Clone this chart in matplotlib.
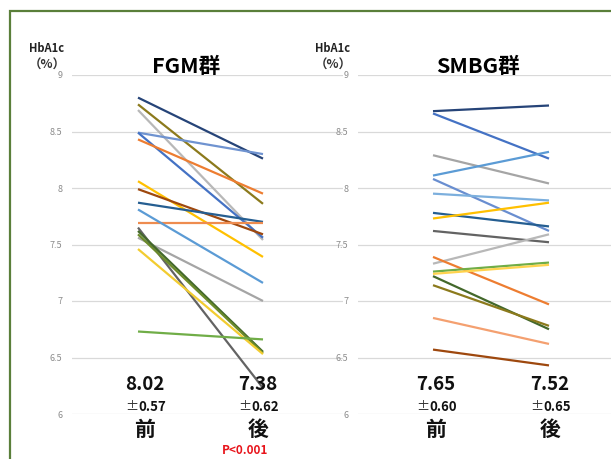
import matplotlib
matplotlib.use("Agg")
import matplotlib.pyplot as plt
from matplotlib.patches import Rectangle

plt.rcParams['font.family'] = ['Noto Sans CJK JP', 'DejaVu Sans']

categories = ["前", "後"]
yticks = [6, 6.5, 7, 7.5, 8, 8.5, 9]
ytick_labels = ["6", "6.5", "7", "7.5", "8", "8.5", "9"]

fgm_before = [8.80, 8.74, 8.69, 8.49, 8.49, 8.43, 8.06, 7.99, 7.87, 7.69, 7.81, 7.56, 7.65, 7.62, 7.59, 7.46, 6.73]
fgm_after = [8.26, 7.86, 7.54, 8.30, 7.56, 7.95, 7.39, 7.59, 7.70, 7.69, 7.16, 7.00, 6.23, 6.55, 6.54, 6.53, 6.66]
fgm_colors = ["#264478", "#8c7a1c", "#b8b8b8", "#6f93d0", "#4472c4", "#ed7d31", "#ffc000", "#9e480e",
              "#255e91", "#ee8c4f", "#5b9bd5", "#a5a5a5", "#636363", "#43682b", "#6a8a2a", "#f2cc30", "#70ad47"]

smbg_before = [8.68, 8.66, 8.29, 8.11, 8.08, 7.95, 7.78, 7.73, 7.62, 7.33, 7.39, 7.26, 7.24, 7.22, 7.14, 6.85, 6.57]
smbg_after = [8.73, 8.26, 8.04, 8.32, 7.62, 7.89, 7.66, 7.87, 7.52, 7.59, 6.97, 7.34, 7.32, 6.75, 6.78, 6.62, 6.43]
smbg_colors = ["#264478", "#4472c4", "#a5a5a5", "#5b9bd5", "#698ed0", "#7cafdd", "#255e91", "#ffc000",
               "#636363", "#b8b8b8", "#ed7d31", "#70ad47", "#ffd34d", "#43682b", "#8c7a1c", "#f4a070", "#9e480e"]

panel_titles = ["FGM群", "SMBG群"]
means = [["8.02", "7.38"], ["7.65", "7.52"]]
sds = [["0.57", "0.62"], ["0.60", "0.65"]]
pvalue = "P<0.001"

W, H = 611, 459
fig = plt.figure(figsize=(W / 100, H / 100), dpi=100)

def px_axes(x0, x1, y_top, y_bot):
    return fig.add_axes([x0 / W, 1 - y_bot / H, (x1 - x0) / W, (y_bot - y_top) / H])

panels = [
    dict(x0=72, x1=343, xb=138, xa=263, before=fgm_before, after=fgm_after, colors=fgm_colors,
         title_x=186, hb_x=47, txt=[145, 258]),
    dict(x0=358, x1=611, xb=433, xa=549, before=smbg_before, after=smbg_after, colors=smbg_colors,
         title_x=478, hb_x=333, txt=[436, 550]),
]

for i, p in enumerate(panels):
    ax = px_axes(p["x0"], p["x1"], 75, 414)
    scale = p["xa"] - p["xb"]
    ax.set_xlim(-(p["xb"] - p["x0"]) / scale, (p["x1"] - p["xb"]) / scale)
    ax.set_ylim(6, 9)
    for b, a, c in zip(p["before"], p["after"], p["colors"]):
        ax.plot([0, 1], [b, a], color=c, lw=1.6, solid_capstyle="butt", zorder=3)
    ax.set_yticks(yticks)
    ax.set_yticklabels(ytick_labels)
    ax.tick_params(axis="y", length=0, labelsize=6.5, labelcolor="#8c8c8c", pad=7)
    ax.set_xticks([])
    ax.grid(axis="y", color="#d9d9d9", lw=0.9)
    ax.set_axisbelow(True)
    for s in ax.spines.values():
        s.set_visible(False)
    ax.patch.set_alpha(0)

    fig.text(p["title_x"] / W, 1 - 66 / H, panel_titles[i], fontsize=15.5, fontweight="bold",
             ha="center", va="center")
    fig.text(p["hb_x"] / W, 1 - 48 / H, "HbA1c", fontsize=8, fontweight="bold",
             ha="center", va="center", color="#222222")
    fig.text(p["hb_x"] / W, 1 - 65 / H, "（%）", fontsize=9, fontweight="bold",
             ha="center", va="center", color="#333333")

    for j in range(2):
        tx = p["txt"][j]
        fig.text(tx / W, 1 - 385 / H, means[i][j], fontsize=13.5, fontweight="bold",
                 ha="center", va="center", color="#111111")
        fig.text((tx - 7) / W, 1 - 407 / H, "±", fontsize=9.5, fontweight="normal",
                 ha="right", va="center", color="#333333")
        fig.text((tx - 7) / W, 1 - 407 / H, sds[i][j], fontsize=9.5, fontweight="bold",
                 ha="left", va="center", color="#111111")
        fig.text(tx / W, 1 - 429 / H, categories[j], fontsize=15, fontweight="bold",
                 ha="center", va="center", color="#111111")

fig.text(245 / W, 1 - 451 / H, pvalue, fontsize=8.5, fontweight="bold", color="#e8141b",
         ha="center", va="center")

fig.patches.append(Rectangle((10 / W, -0.1), 1.2, 1 - 11 / H + 0.1, transform=fig.transFigure,
                             fill=False, edgecolor="#5a7f3a", lw=1.6, zorder=0))

fig.savefig("out.png", dpi=100)
